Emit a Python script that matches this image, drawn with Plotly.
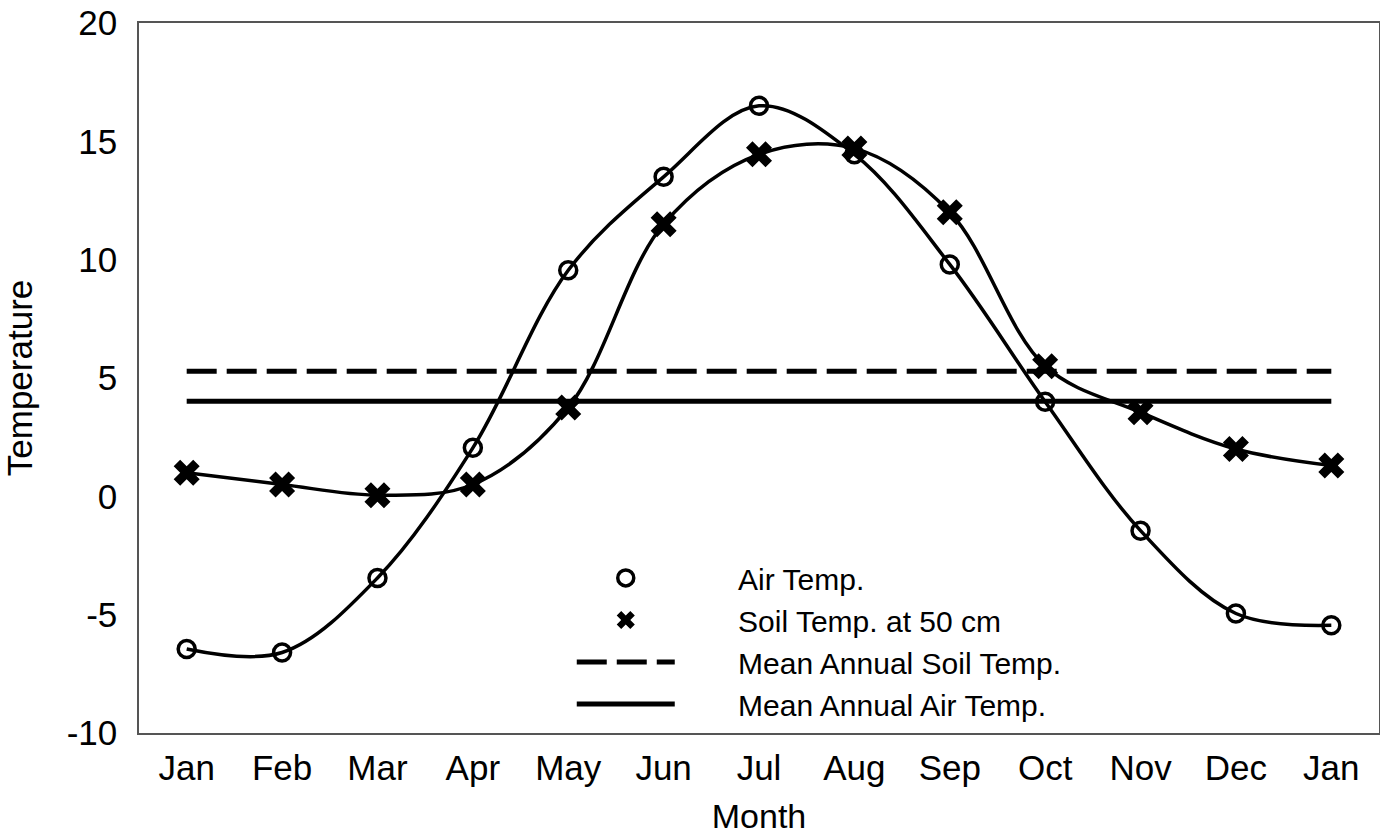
import plotly.graph_objects as go

# Datos
months = ['Jan', 'Feb', 'Mar', 'Apr', 'May', 'Jun', 'Jul',
          'Aug', 'Sep', 'Oct', 'Nov', 'Dec', 'Jan']
air_temp = [-6.45, -6.6, -3.45, 2.05, 9.55, 13.5, 16.5,
            14.45, 9.8, 4.0, -1.45, -4.95, -5.45]
soil_temp = [1.0, 0.5, 0.05, 0.5, 3.75, 11.5, 14.45,
             14.7, 12.0, 5.5, 3.55, 2.0, 1.3]
mean_soil = 5.28
mean_air = 4.02
y_ticks = [-10, -5, 0, 5, 10, 15, 20]
y_ticktext = ['-10', '-5', '0', '5', '10', '15', '20']
legend_names = ['Air Temp.', 'Soil Temp. at 50 cm',
                'Mean Annual Soil Temp.', 'Mean Annual Air Temp.']

x_pos = list(range(len(months)))
font_family = 'Liberation Sans, Arial, sans-serif'
pad = '\u00a0' * 7  # separa el texto de la leyenda de su muestra


def lname(i):
    return pad + legend_names[i]


fig = go.Figure()

# Curvas suavizadas (sin leyenda)
fig.add_trace(go.Scatter(
    x=x_pos, y=air_temp, mode='lines', showlegend=False,
    line=dict(color='black', width=3.5, shape='spline', smoothing=1.0),
    hoverinfo='skip'
))
fig.add_trace(go.Scatter(
    x=x_pos, y=soil_temp, mode='lines', showlegend=False,
    line=dict(color='black', width=3.5, shape='spline', smoothing=1.0),
    hoverinfo='skip'
))

# Marcadores con leyenda
fig.add_trace(go.Scatter(
    x=x_pos, y=air_temp,
    mode='markers',
    name=lname(0),
    marker=dict(symbol='circle-open', size=17, color='black',
                line=dict(width=3.5, color='black')),
    legendgroup='a'
))
fig.add_trace(go.Scatter(
    x=x_pos, y=soil_temp,
    mode='markers',
    name=lname(1),
    marker=dict(symbol='x', size=23, color='black',
                line=dict(width=0)),
    legendgroup='b'
))

# Medias anuales
fig.add_trace(go.Scatter(
    x=[x_pos[0], x_pos[-1]], y=[mean_soil, mean_soil],
    mode='lines',
    name=lname(2),
    line=dict(color='black', width=5, dash='30px,10px'),
    legendgroup='c'
))
fig.add_trace(go.Scatter(
    x=[x_pos[0], x_pos[-1]], y=[mean_air, mean_air],
    mode='lines',
    name=lname(3),
    line=dict(color='black', width=5),
    legendgroup='d'
))

fig.update_layout(
    width=1380, height=835,
    paper_bgcolor='white',
    plot_bgcolor='white',
    margin=dict(l=139, r=1, t=23, b=102),
    font=dict(family=font_family, color='black', size=34),
    showlegend=True,
    legend=dict(
        x=0.349, y=0.255, xanchor='left', yanchor='top',
        bgcolor='rgba(0,0,0,0)',
        font=dict(size=30, family=font_family),
        traceorder='grouped',
        tracegroupgap=0,
        itemwidth=98,
    ),
    xaxis=dict(
        range=[-0.5, 12.5],
        tickmode='array',
        tickvals=x_pos,
        ticktext=months,
        showgrid=False,
        zeroline=False,
        showline=True, mirror=True,
        linecolor='#555', linewidth=1.5,
        ticks='',
        automargin=False,
        ticklabelstandoff=3,
        tickfont=dict(size=35),
        title=dict(text='Month', font=dict(size=34), standoff=30),
    ),
    yaxis=dict(
        range=[-10, 20],
        tickmode='array',
        tickvals=y_ticks,
        ticktext=y_ticktext,
        showgrid=False,
        zeroline=False,
        showline=True, mirror=True,
        linecolor='#555', linewidth=1.5,
        ticks='',
        automargin=False,
        ticklabelstandoff=13,
        tickfont=dict(size=35),
        title=dict(text='Temperature', font=dict(size=35), standoff=26),
    ),
)

fig.write_html("out.html", config={'displayModeBar': False},
               post_script="document.body.style.margin='0';")
